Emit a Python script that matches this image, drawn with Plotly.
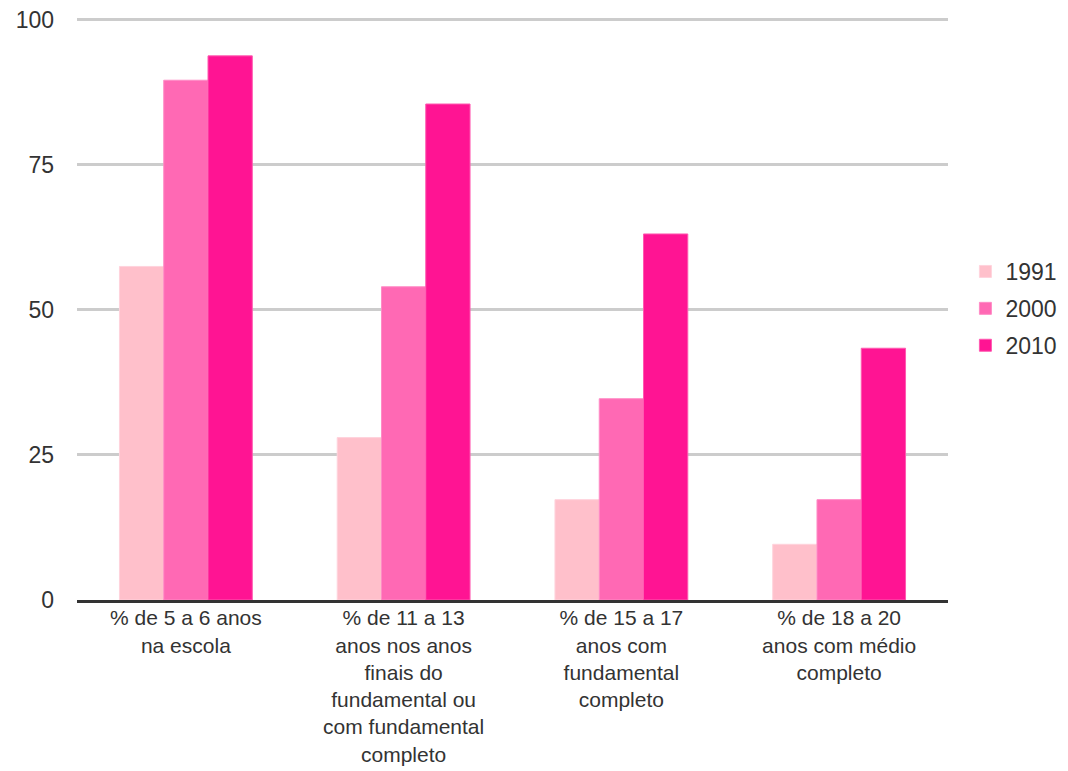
import plotly.graph_objects as go

categories = [
    "% de 5 a 6 anos<br>na escola",
    "% de 11 a 13<br>anos nos anos<br>finais do<br>fundamental ou<br>com fundamental<br>completo",
    "% de 15 a 17<br>anos com<br>fundamental<br>completo",
    "% de 18 a 20<br>anos com médio<br>completo",
]
series_names = ["1991", "2000", "2010"]
values_1991 = [57.5, 28.0, 17.3, 9.6]
values_2000 = [89.6, 54.0, 34.7, 17.3]
values_2010 = [93.8, 85.5, 63.1, 43.4]
colors = ["#FFC0CB", "#FF69B4", "#FF1493"]
edge_colors = ["#FFD3DC", "#FF8CC6", "#FF5AB0"]
y_ticks = [0, 25, 50, 75, 100]

FONT = "Liberation Sans, Arial, sans-serif"

fig = go.Figure()
for name, vals, c, ec in zip(series_names, [values_1991, values_2000, values_2010], colors, edge_colors):
    fig.add_trace(go.Bar(
        x=categories, y=vals, name=name, legendgroup=name,
        marker=dict(color=c, line=dict(color=ec, width=1)),
    ))

fig.update_layout(
    width=1068, height=771,
    margin=dict(l=77, r=120, t=17, b=171, autoexpand=False),
    plot_bgcolor="white", paper_bgcolor="white",
    barmode="group", bargap=0.39, bargroupgap=0,
    font=dict(family=FONT, size=23, color="#333333"),
    showlegend=True,
    legend=dict(x=1.02, xanchor="left", y=0.5, yanchor="middle",
                font=dict(size=23, color="#333333"), tracegroupgap=4,
                itemwidth=30),
)
fig.update_yaxes(range=[0, 100.5], tickvals=y_ticks, showgrid=True,
                 gridcolor="#cccccc", gridwidth=3, zeroline=False,
                 ticks="", ticklabelstandoff=22, fixedrange=True, automargin=False)
fig.update_xaxes(showline=True, linecolor="#333333", linewidth=3,
                 ticks="", tickangle=0, fixedrange=True, automargin=False,
                 tickfont=dict(size=21), ticklabelstandoff=-3)

fig.write_html("out.html")
